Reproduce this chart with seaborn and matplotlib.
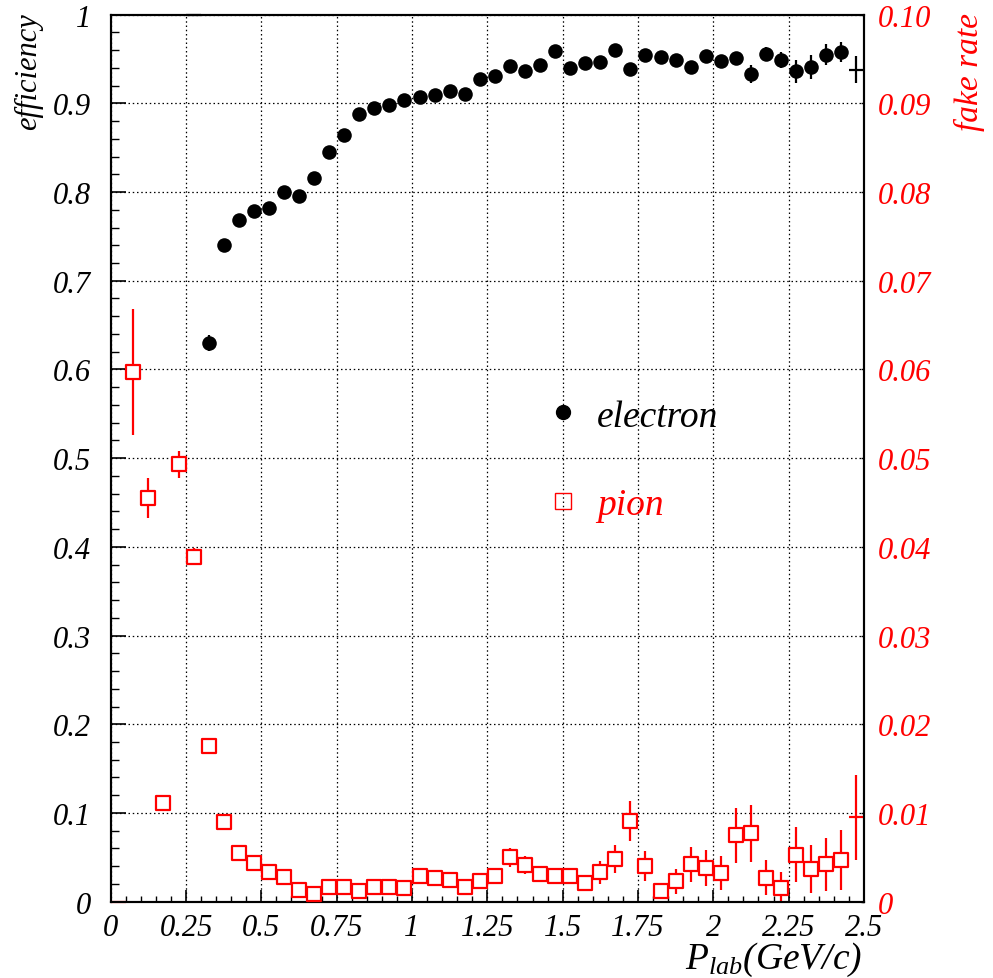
import numpy as np
import matplotlib
matplotlib.use("Agg")
import matplotlib.pyplot as plt
import seaborn as sns
from matplotlib.lines import Line2D
from matplotlib.ticker import FixedLocator, MultipleLocator

# momentum bin centres (GeV/c), bin half width 0.025
p_bins = [0.075, 0.125, 0.175, 0.225, 0.275, 0.325, 0.375, 0.425, 0.475, 0.525,
          0.575, 0.625, 0.675, 0.725, 0.775, 0.825, 0.875, 0.925, 0.975, 1.025,
          1.075, 1.125, 1.175, 1.225, 1.275, 1.325, 1.375, 1.425, 1.475, 1.525,
          1.575, 1.625, 1.675, 1.725, 1.775, 1.825, 1.875, 1.925, 1.975, 2.025,
          2.075, 2.125, 2.175, 2.225, 2.275, 2.325, 2.375, 2.425]
bin_half = 0.025

# electron efficiency (bins from 0.325 on)
e_eff = [0.630, 0.740, 0.768, 0.779, 0.782, 0.800, 0.796, 0.816, 0.845, 0.864,
         0.888, 0.895, 0.898, 0.904, 0.907, 0.909, 0.914, 0.911, 0.928, 0.931,
         0.942, 0.937, 0.943, 0.959, 0.940, 0.945, 0.947, 0.960, 0.939, 0.954,
         0.952, 0.949, 0.941, 0.953, 0.948, 0.951, 0.933, 0.956, 0.949, 0.936,
         0.941, 0.955, 0.958]
e_err = [0.009, 0.004, 0.004, 0.004, 0.004, 0.004, 0.004, 0.004, 0.004, 0.004,
         0.004, 0.004, 0.004, 0.004, 0.004, 0.004, 0.004, 0.004, 0.004, 0.004,
         0.004, 0.004, 0.004, 0.004, 0.005, 0.005, 0.005, 0.005, 0.005, 0.005,
         0.005, 0.005, 0.006, 0.007, 0.006, 0.007, 0.010, 0.008, 0.009, 0.013,
         0.013, 0.012, 0.011]
# edge bins drawn without marker
e_edge_p = [0.275, 2.475]
e_edge_eff = [1.0, 0.938]
e_edge_err = [0.0, 0.015]

# pion fake rate
pi_rate = [0.0597, 0.0455, 0.0111, 0.0493, 0.0389, 0.0176, 0.0090, 0.0055, 0.0044, 0.0033,
           0.0028, 0.0013, 0.0009, 0.0017, 0.0016, 0.0012, 0.0016, 0.0016, 0.0015, 0.0029,
           0.0027, 0.0024, 0.0016, 0.0023, 0.0029, 0.0050, 0.0041, 0.0031, 0.0029, 0.0029,
           0.0021, 0.0033, 0.0048, 0.0091, 0.0040, 0.0012, 0.0023, 0.0042, 0.0038, 0.0032,
           0.0075, 0.0077, 0.0027, 0.0015, 0.0053, 0.0037, 0.0042, 0.0047]
pi_err = [0.0071, 0.0023, 0.0005, 0.0015, 0.0010, 0.0005, 0.0004, 0.0003, 0.0003, 0.0003,
          0.0003, 0.0003, 0.0003, 0.0003, 0.0003, 0.0003, 0.0003, 0.0003, 0.0003, 0.0004,
          0.0004, 0.0004, 0.0004, 0.0004, 0.0005, 0.0011, 0.0010, 0.0006, 0.0007, 0.0007,
          0.0006, 0.0013, 0.0016, 0.0023, 0.0017, 0.0006, 0.0014, 0.0020, 0.0020, 0.0019,
          0.0031, 0.0032, 0.0020, 0.0018, 0.0031, 0.0027, 0.0030, 0.0034]
pi_edge_p = [0.025, 2.475]
pi_edge_rate = [0.0, 0.0095]
pi_edge_err = [0.0, 0.0048]

x_ticks = [0, 0.25, 0.5, 0.75, 1, 1.25, 1.5, 1.75, 2, 2.25, 2.5]
x_labels = ["0", "0.25", "0.5", "0.75", "1", "1.25", "1.5", "1.75", "2", "2.25", "2.5"]
eff_ticks = [0, 0.1, 0.2, 0.3, 0.4, 0.5, 0.6, 0.7, 0.8, 0.9, 1.0]
eff_labels = ["0", "0.1", "0.2", "0.3", "0.4", "0.5", "0.6", "0.7", "0.8", "0.9", "1"]
fake_ticks = [0, 0.01, 0.02, 0.03, 0.04, 0.05, 0.06, 0.07, 0.08, 0.09, 0.10]
fake_labels = ["0", "0.01", "0.02", "0.03", "0.04", "0.05", "0.06", "0.07", "0.08", "0.09", "0.10"]

sns.set_style("ticks")
plt.rcParams["font.family"] = ["Liberation Serif", "DejaVu Serif"]
plt.rcParams["font.style"] = "italic"
plt.rcParams["mathtext.fontset"] = "custom"
plt.rcParams["mathtext.it"] = "Liberation Serif:italic"
plt.rcParams["mathtext.rm"] = "Liberation Serif:italic"
plt.rcParams["text.color"] = "black"
plt.rcParams["axes.labelcolor"] = "black"
plt.rcParams["xtick.color"] = "black"
plt.rcParams["ytick.color"] = "black"

RED = "#ff0000"
fig = plt.figure(figsize=(9.93, 9.79), dpi=100)
ax = fig.add_axes([0.1115, 0.078, 0.7585, 0.906])
ax2 = ax.twinx()

e_p = p_bins[5:]

# electron
ax.errorbar(e_p, e_eff, yerr=e_err, fmt="none", ecolor="black", elinewidth=1.6, zorder=2)
sns.scatterplot(x=e_p, y=e_eff, ax=ax, marker="o", s=110, color="black",
                edgecolor="black", linewidth=0, zorder=3, legend=False)
ax.errorbar(e_edge_p, e_edge_eff, xerr=bin_half, yerr=e_edge_err, fmt="none",
            ecolor="black", elinewidth=1.6, zorder=2, clip_on=False)

# pion
ax2.errorbar(p_bins, pi_rate, yerr=pi_err, fmt="none", ecolor=RED, elinewidth=1.6, zorder=2)
sns.scatterplot(x=p_bins, y=pi_rate, ax=ax2, marker="s", s=115, color="white",
                edgecolor=RED, linewidth=1.6, zorder=3, legend=False)
ax2.errorbar(pi_edge_p, pi_edge_rate, xerr=bin_half, yerr=pi_edge_err, fmt="none",
             ecolor=RED, elinewidth=1.6, zorder=2, clip_on=False)

ax.set_xlim(0, 2.5)
ax.set_ylim(0, 1)
ax2.set_ylim(0, 0.1)

ax.xaxis.set_major_locator(FixedLocator(x_ticks))
ax.set_xticklabels(x_labels)
ax.xaxis.set_minor_locator(MultipleLocator(0.05))
ax.yaxis.set_major_locator(FixedLocator(eff_ticks))
ax.set_yticklabels(eff_labels)
ax.yaxis.set_minor_locator(MultipleLocator(0.02))
ax2.yaxis.set_major_locator(FixedLocator(fake_ticks))
ax2.set_yticklabels(fake_labels)

ax.grid(True, which="major", color="black", linestyle=(0, (1.2, 2.2)), linewidth=0.9)
ax.tick_params(axis="y", which="major", direction="in", length=11, width=1.2,
               labelsize=22, pad=14, color="black")
ax.tick_params(axis="y", which="minor", direction="in", length=5.5, width=1.0, color="black")
ax.tick_params(axis="x", which="major", direction="in", length=9, width=1.2,
               labelsize=22, pad=8, color="black")
ax.tick_params(axis="x", which="minor", direction="in", length=4.5, width=1.0, color="black")
ax2.tick_params(axis="y", which="major", direction="in", length=2.5, width=1.0,
                labelsize=22, labelcolor=RED, pad=10, color="black")
ax2.tick_params(axis="y", which="minor", length=0)

for a in (ax, ax2):
    for sp in a.spines.values():
        sp.set_linewidth(1.5)
        sp.set_color("black")

ax.set_ylabel("efficiency", fontsize=22, loc="top")
ax.yaxis.set_label_coords(-0.09, 1.003)
ax2.set_ylabel("fake rate", fontsize=24, loc="top", color=RED)
ax2.yaxis.set_label_coords(1.12, 1.003)
ax.set_xlabel(r"$P_{lab}(GeV/c)$", fontsize=27, loc="right")
ax.xaxis.set_label_coords(0.997, -0.043)

handles = [
    Line2D([], [], marker="o", linestyle="none", markersize=10, color="black"),
    Line2D([], [], marker="s", linestyle="none", markersize=11, markerfacecolor="none",
           markeredgecolor=RED, markeredgewidth=1.0),
]
leg = ax.legend(handles, ["electron", "pion"], loc="center left",
                bbox_to_anchor=(0.556, 0.497), frameon=False, fontsize=27,
                labelspacing=1.45, handlelength=0.8, handletextpad=0.5, borderpad=0)
leg.get_texts()[1].set_color(RED)

plt.savefig("out.png", dpi=100)
